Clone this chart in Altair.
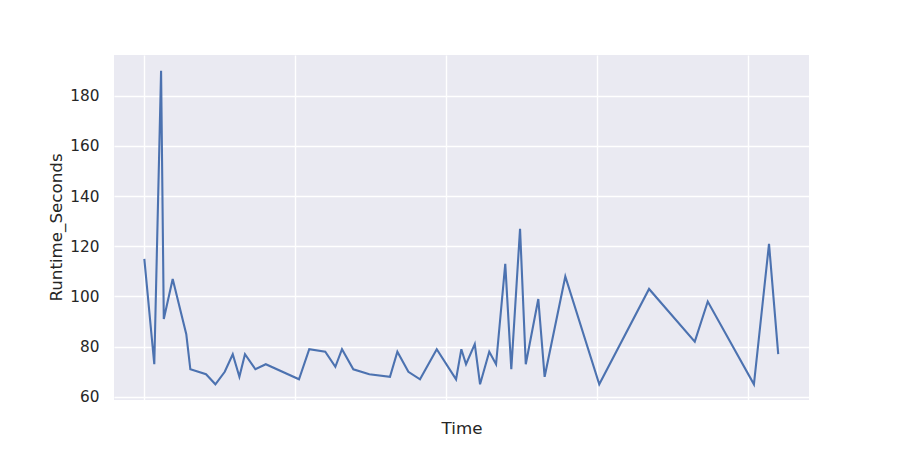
import altair as alt
import pandas as pd

# Time positions (arbitrary units; gridlines at integer positions) and runtimes
time_vals = [0.0, 0.066, 0.111, 0.129, 0.188, 0.278, 0.305, 0.409, 0.471, 0.533,
             0.586, 0.630, 0.667, 0.736, 0.805, 1.025, 1.093, 1.199, 1.266, 1.310,
             1.385, 1.491, 1.628, 1.677, 1.750, 1.827, 1.938, 2.066, 2.101, 2.132,
             2.190, 2.225, 2.286, 2.331, 2.392, 2.432, 2.490, 2.528, 2.611, 2.653,
             2.790, 3.015, 3.345, 3.648, 3.734, 4.040, 4.140, 4.201]
runtime_vals = [115, 73, 190, 91, 107, 85, 71, 69, 65, 70,
                77, 68, 77, 71, 73, 67, 79, 78, 72, 79,
                71, 69, 68, 78, 70, 67, 79, 67, 79, 73,
                81, 65, 78, 73, 113, 71, 127, 73, 99, 68,
                108, 65, 103, 82, 98, 65, 121, 77]
x_grid = [0, 1, 2, 3, 4]
y_ticks = [60, 80, 100, 120, 140, 160, 180]

df = pd.DataFrame({"Time": time_vals, "Runtime_Seconds": runtime_vals})

chart = alt.Chart(df).mark_line(color="#4C72B0", strokeWidth=2.1).encode(
    x=alt.X("Time:Q",
            scale=alt.Scale(domain=[-0.201, 4.405], nice=False, zero=False),
            axis=alt.Axis(values=x_grid, labels=False, ticks=False, domain=False,
                          grid=True, gridColor="white", gridWidth=1.4,
                          title="Time", titleFontSize=16.7, titleFontWeight="normal",
                          titleColor="#262626", titleFont="DejaVu Sans",
                          titlePadding=20)),
    y=alt.Y("Runtime_Seconds:Q",
            scale=alt.Scale(domain=[58.75, 196.25], nice=False, zero=False),
            axis=alt.Axis(values=y_ticks, ticks=False, domain=False,
                          grid=True, gridColor="white", gridWidth=1.4,
                          labelFontSize=15.3, labelColor="#262626",
                          labelFont="DejaVu Sans", labelPadding=15,
                          title="Runtime_Seconds", titleFontSize=16.7,
                          titleFontWeight="normal", titleColor="#262626",
                          titleFont="DejaVu Sans", titleX=-58, titleY=172,
                          titleBaseline="middle", titleAngle=270)),
).properties(
    width=695, height=345,
    background="white",
    autosize=alt.AutoSizeParams(type="none"),
    padding={"left": 106, "top": 47, "right": 80, "bottom": 40},
).configure_view(
    fill="#EAEAF2", strokeWidth=0
)

chart.save("out.html", embed_options={"renderer": "svg", "actions": False})
